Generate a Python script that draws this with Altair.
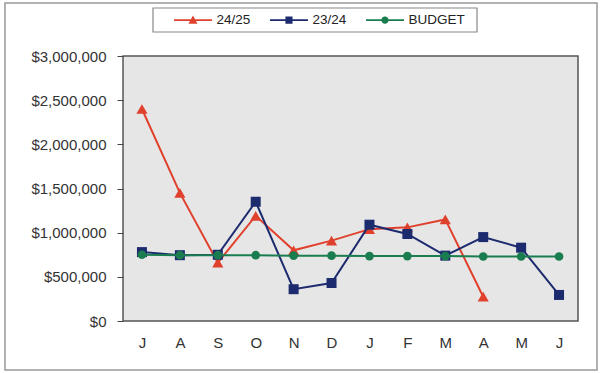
import altair as alt
import pandas as pd

months = ["J", "A", "S", "O", "N", "D", "J", "F", "M", "A", "M", "J"]
series_names = ["24/25", "23/24", "BUDGET"]
s2425 = [2400000, 1450000, 660000, 1190000, 800000, 910000, 1040000, 1060000, 1150000, 275000, None, None]
s2324 = [780000, 745000, 750000, 1350000, 360000, 430000, 1090000, 985000, 740000, 950000, 830000, 295000]
budget = [750000, 745000, 745000, 745000, 740000, 740000, 735000, 735000, 735000, 730000, 730000, 730000]
colors = ["#e0412c", "#1c2a6e", "#1a7d4f"]
y_ticks = [0, 500000, 1000000, 1500000, 2000000, 2500000, 3000000]

rows = []
for name, vals in zip(series_names, [s2425, s2324, budget]):
    for i, v in enumerate(vals):
        rows.append({"series": name, "idx": i, "value": v})
df = pd.DataFrame(rows)

label_expr = "[" + ",".join("'%s'" % m for m in months) + "][datum.value]"

FONT = "Liberation Sans"

x_enc = alt.X("idx:O", scale=alt.Scale(type="point", padding=0.5),
              axis=alt.Axis(title=None, labelExpr=label_expr, labelAngle=0, ticks=False,
                            domain=False, labelPadding=14, labelFontSize=15,
                            labelFont=FONT, labelColor="#333"))
y_enc = alt.Y("value:Q", scale=alt.Scale(domain=[0, 3000000], nice=False),
              axis=alt.Axis(title=None, values=y_ticks, format="$,.0f", grid=False,
                            domain=False, tickSize=6, tickColor="#444", labelPadding=11,
                            labelFontSize=15, labelFont=FONT, labelColor="#333"))

base = alt.Chart(df)

shapes_marks = ["triangle-up", "square", "circle"]
sizes = [125, 100, 75]

layers = []
for name, col, shp, sz in zip(series_names, colors, shapes_marks, sizes):
    sub = base.transform_filter(alt.datum.series == name)
    layers.append(sub.mark_line(color=col, strokeWidth=2).encode(x=x_enc, y=y_enc))
    layers.append(sub.mark_point(color=col, shape=shp, size=sz, filled=True, opacity=1).encode(x=x_enc, y=y_enc))

# legend glyphs: line with marker in its middle; the glyph extends to the right of its anchor
legend_paths = [
    "M-1,-0.17H7V0.17H-1Z M3,-0.95L3.95,0.75L2.05,0.75Z",
    "M-1,-0.17H7V0.17H-1Z M2.25,-0.75H3.75V0.75H2.25Z",
    "M-1,-0.17H7V0.17H-1Z M3.75,0A0.75,0.75,0,1,1,2.25,0A0.75,0.75,0,1,1,3.75,0Z",
]
leg = dict(orient="none", legendX=49, legendY=-43, direction="horizontal", title=None,
           padding=0, labelFont=FONT,
           labelFontSize=13.5, labelColor="#222", symbolSize=90, labelOffset=31,
           columnPadding=17, symbolStrokeWidth=0)
legend_layer = base.transform_filter("false").mark_point(filled=True, opacity=1).encode(
    x=x_enc, y=y_enc,
    color=alt.Color("series:N", scale=alt.Scale(domain=series_names, range=colors), legend=alt.Legend(**leg)),
    shape=alt.Shape("series:N", scale=alt.Scale(domain=series_names, range=legend_paths), legend=alt.Legend(**leg)),
)

one = pd.DataFrame({"a": [0]})
frame = alt.Chart(one).mark_rect(
    fill=None, stroke="#999", strokeWidth=1.5, clip=False
).encode(x=alt.value(-118), x2=alt.value(474), y=alt.value(-53), y2=alt.value(314))
legend_box = alt.Chart(one).mark_rect(
    fill="white", stroke="#888", strokeWidth=1.2, clip=False
).encode(x=alt.value(30), x2=alt.value(354), y=alt.value(-48), y2=alt.value(-24))

chart = alt.layer(frame, legend_box, *layers, legend_layer).properties(
    width=455, height=265,
    padding={"left": 123, "top": 56, "right": 22, "bottom": 52},
    autosize=alt.AutoSizeParams(type="none"),
    background="white",
).configure_view(fill="#e6e6e6", stroke="#555", strokeWidth=1.5)

chart.save("out.html", embed_options={"renderer": "svg", "actions": False})
